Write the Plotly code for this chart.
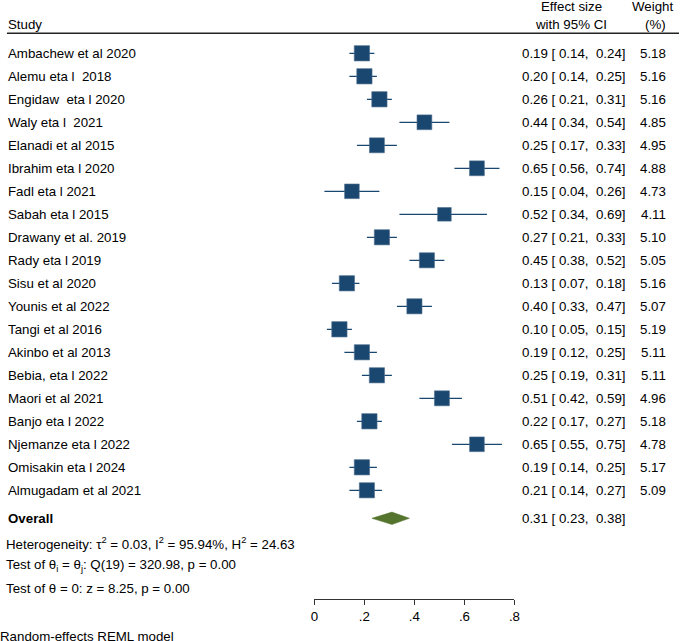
import plotly.graph_objects as go
import numpy as np

studies = ["Ambachew et al 2020", "Alemu eta l  2018", "Engidaw  eta l 2020", "Waly eta l  2021",
           "Elanadi et al 2015", "Ibrahim eta l 2020", "Fadl eta l 2021", "Sabah eta l 2015",
           "Drawany et al. 2019", "Rady eta l 2019", "Sisu et al 2020", "Younis et al 2022",
           "Tangi et al 2016", "Akinbo et al 2013", "Bebia, eta l 2022", "Maori et al 2021",
           "Banjo eta l 2022", "Njemanze eta l 2022", "Omisakin eta l 2024", "Almugadam et al 2021"]
es = [0.19, 0.20, 0.26, 0.44, 0.25, 0.65, 0.15, 0.52, 0.27, 0.45, 0.13, 0.40, 0.10, 0.19, 0.25, 0.51, 0.22, 0.65, 0.19, 0.21]
lo = [0.14, 0.14, 0.21, 0.34, 0.17, 0.56, 0.04, 0.34, 0.21, 0.38, 0.07, 0.33, 0.05, 0.12, 0.19, 0.42, 0.17, 0.55, 0.14, 0.14]
hi = [0.24, 0.25, 0.31, 0.54, 0.33, 0.74, 0.26, 0.69, 0.33, 0.52, 0.18, 0.47, 0.15, 0.25, 0.31, 0.59, 0.27, 0.75, 0.25, 0.27]
weights = [5.18, 5.16, 5.16, 4.85, 4.95, 4.88, 4.73, 4.11, 5.10, 5.05, 5.16, 5.07, 5.19, 5.11, 5.11, 4.96, 5.18, 4.78, 5.17, 5.09]
overall = {"es": 0.31, "lo": 0.23, "hi": 0.38}
tick_vals = [0, 0.2, 0.4, 0.6, 0.8]
tick_text = ["0", ".2", ".4", ".6", ".8"]

W, H = 685, 641
NAVY = "#1a476f"
GREEN = "#55752f"
FONT = "Liberation Sans, Arial, sans-serif"
FS = 13.3
ROW0, PITCH = 53.3, 23.0
AXIS_PX = 599
PAD = 5  # annotation internal padding compensation

def row_of(px):
    return (px - ROW0) / PITCH

rows = list(range(len(studies)))
sizes = [15.3 * np.sqrt(w / 5.18) for w in weights]

fig = go.Figure()
fig.add_trace(go.Scatter(
    x=es, y=rows, mode="markers",
    marker=dict(symbol="square", size=sizes, color=NAVY, opacity=1,
                line=dict(color="#4f6f8f", width=0.6)),
    error_x=dict(type="data", symmetric=False,
                 array=[h - e for h, e in zip(hi, es)],
                 arrayminus=[e - l for e, l in zip(es, lo)],
                 color=NAVY, thickness=1.3, width=0),
    hoverinfo="skip", showlegend=False, cliponaxis=False))

r_ov = row_of(518.3)
dh = 6.2 / PITCH
fig.add_trace(go.Scatter(
    x=[overall["lo"], overall["es"], overall["hi"], overall["es"], overall["lo"]],
    y=[r_ov, r_ov - dh, r_ov, r_ov + dh, r_ov],
    mode="lines", fill="toself", fillcolor=GREEN, line=dict(color=GREEN, width=0.5),
    hoverinfo="skip", showlegend=False, cliponaxis=False))

ann = []
def txt(x_px, r, s, anchor="left", bold=False, yref="y"):
    shift = -PAD if anchor == "left" else (PAD + 1 if anchor == "right" else 0)
    ann.append(dict(x=(x_px + shift) / W, xref="paper", y=r, yref=yref,
                    text=("<b>%s</b>" % s) if bold else s,
                    showarrow=False, xanchor=anchor, yanchor="middle",
                    font=dict(family=FONT, size=FS, color="black")))

NB = "\u00a0"
def ci_text(e, l, h):
    return ("%.2f [ %.2f,  %.2f]" % (e, l, h)).replace(" ", NB)

for i, s in enumerate(studies):
    txt(7, i, s.replace(" ", NB))
    txt(627, i, ci_text(es[i], lo[i], hi[i]), anchor="right")
    txt(668, i, "%.2f" % weights[i], anchor="right")

txt(7, r_ov, "Overall", bold=True)
txt(627, r_ov, ci_text(overall["es"], overall["lo"], overall["hi"]), anchor="right")

txt(5, row_of(543.3), "Heterogeneity: τ<sup>2</sup> = 0.03, I<sup>2</sup> = 95.94%, H<sup>2</sup> = 24.63")
txt(5, row_of(565.3), "Test of θ<sub>i</sub> = θ<sub>j</sub>: Q(19) = 320.98, p = 0.00")
txt(5, row_of(588.3), "Test of θ = 0: z = 8.25, p = 0.00")
txt(-1, 1 - 636.7 / H, "Random-effects REML model", yref="paper")

# header
txt(7, row_of(24), "Study")
txt(575.5, row_of(6), "Effect size", anchor="center")
txt(575.5, row_of(24), "with 95% CI", anchor="center")
txt(658.5, row_of(6), "Weight", anchor="center")
txt(661, row_of(24), "(%)", anchor="center")

shapes = [dict(type="line", xref="paper", x0=3 / W, x1=1, yref="y", y0=row_of(33.3), y1=row_of(33.3),
               line=dict(color="#222222", width=1.4))]

fig.update_layout(
    width=W, height=H, margin=dict(l=0, r=0, t=0, b=0),
    paper_bgcolor="white", plot_bgcolor="white",
    annotations=ann, shapes=shapes,
    xaxis=dict(domain=[315 / W, 518 / W], range=[0, 0.8], tickvals=tick_vals, ticktext=tick_text,
               showline=True, linecolor="#333333", linewidth=1, ticks="outside", ticklen=5,
               tickcolor="#333333", tickwidth=1, showgrid=False, zeroline=False,
               tickfont=dict(family=FONT, size=FS, color="black"), fixedrange=True),
    yaxis=dict(domain=[1 - AXIS_PX / H, 1], range=[row_of(AXIS_PX), row_of(0)], visible=False,
               showgrid=False, zeroline=False, fixedrange=True),
)

fig.write_html("out.html", config={"displayModeBar": False},
               post_script="document.body.style.margin='0';document.body.style.overflow='hidden';")
